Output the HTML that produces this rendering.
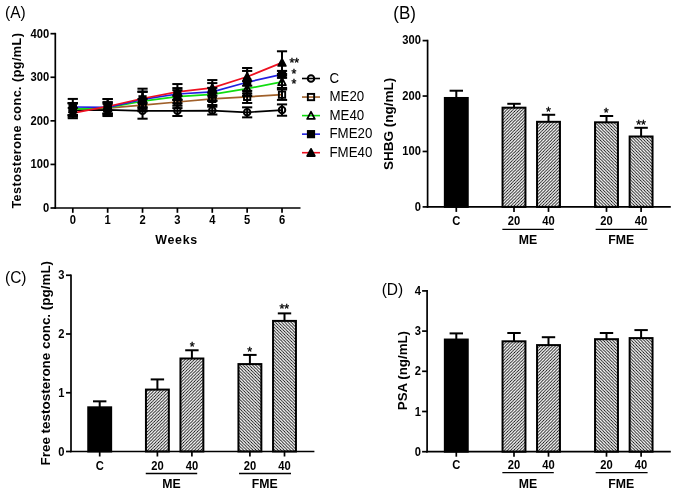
<!DOCTYPE html>
<html><head><meta charset="utf-8"><style>
html,body{margin:0;padding:0;background:#fff;}
svg{display:block;will-change:transform;}
text{font-family:"Liberation Sans", sans-serif;fill:#000;}
</style></head><body>
<svg width="676" height="494" viewBox="0 0 676 494">
<defs>
<pattern id="hatchR" patternUnits="userSpaceOnUse" width="3.13" height="3.13">
<path d="M-0.8,0.8 L0.8,-0.8 M0,3.13 L3.13,0 M2.33,3.93 L3.93,2.33" stroke="#000" stroke-width="0.8"/>
</pattern>
<pattern id="hatchL" patternUnits="userSpaceOnUse" width="3.13" height="3.13">
<path d="M-0.8,2.33 L0.8,3.93 M0,0 L3.13,3.13 M2.33,-0.8 L3.93,0.8" stroke="#000" stroke-width="0.8"/>
</pattern>
</defs>
<rect width="676" height="494" fill="#fff"/>
<text x="0.00" y="0.00" font-size="15.5" font-weight="normal" text-anchor="start" transform="translate(5.10 18.00) scale(1 1.06)">(A)</text>
<line x1="55.30" y1="32.83" x2="55.30" y2="208.85" stroke="#000" stroke-width="1.7"/>
<line x1="54.45" y1="208.00" x2="300.50" y2="208.00" stroke="#000" stroke-width="1.7"/>
<line x1="50.50" y1="208.00" x2="55.30" y2="208.00" stroke="#000" stroke-width="1.7"/>
<text x="0.00" y="0.00" font-size="11.2" font-weight="bold" text-anchor="end" transform="translate(49.30 212.00) scale(1 1.1)">0</text>
<line x1="50.50" y1="164.42" x2="55.30" y2="164.42" stroke="#000" stroke-width="1.7"/>
<text x="0.00" y="0.00" font-size="11.2" font-weight="bold" text-anchor="end" transform="translate(49.30 168.42) scale(1 1.1)">100</text>
<line x1="50.50" y1="120.84" x2="55.30" y2="120.84" stroke="#000" stroke-width="1.7"/>
<text x="0.00" y="0.00" font-size="11.2" font-weight="bold" text-anchor="end" transform="translate(49.30 124.84) scale(1 1.1)">200</text>
<line x1="50.50" y1="77.26" x2="55.30" y2="77.26" stroke="#000" stroke-width="1.7"/>
<text x="0.00" y="0.00" font-size="11.2" font-weight="bold" text-anchor="end" transform="translate(49.30 81.26) scale(1 1.1)">300</text>
<line x1="50.50" y1="33.68" x2="55.30" y2="33.68" stroke="#000" stroke-width="1.7"/>
<text x="0.00" y="0.00" font-size="11.2" font-weight="bold" text-anchor="end" transform="translate(49.30 37.68) scale(1 1.1)">400</text>
<line x1="72.80" y1="208.00" x2="72.80" y2="212.80" stroke="#000" stroke-width="1.7"/>
<text x="0.00" y="0.00" font-size="11.2" font-weight="bold" text-anchor="middle" transform="translate(72.80 224.20) scale(1 1.1)">0</text>
<line x1="107.67" y1="208.00" x2="107.67" y2="212.80" stroke="#000" stroke-width="1.7"/>
<text x="0.00" y="0.00" font-size="11.2" font-weight="bold" text-anchor="middle" transform="translate(107.67 224.20) scale(1 1.1)">1</text>
<line x1="142.54" y1="208.00" x2="142.54" y2="212.80" stroke="#000" stroke-width="1.7"/>
<text x="0.00" y="0.00" font-size="11.2" font-weight="bold" text-anchor="middle" transform="translate(142.54 224.20) scale(1 1.1)">2</text>
<line x1="177.41" y1="208.00" x2="177.41" y2="212.80" stroke="#000" stroke-width="1.7"/>
<text x="0.00" y="0.00" font-size="11.2" font-weight="bold" text-anchor="middle" transform="translate(177.41 224.20) scale(1 1.1)">3</text>
<line x1="212.28" y1="208.00" x2="212.28" y2="212.80" stroke="#000" stroke-width="1.7"/>
<text x="0.00" y="0.00" font-size="11.2" font-weight="bold" text-anchor="middle" transform="translate(212.28 224.20) scale(1 1.1)">4</text>
<line x1="247.15" y1="208.00" x2="247.15" y2="212.80" stroke="#000" stroke-width="1.7"/>
<text x="0.00" y="0.00" font-size="11.2" font-weight="bold" text-anchor="middle" transform="translate(247.15 224.20) scale(1 1.1)">5</text>
<line x1="282.02" y1="208.00" x2="282.02" y2="212.80" stroke="#000" stroke-width="1.7"/>
<text x="0.00" y="0.00" font-size="11.2" font-weight="bold" text-anchor="middle" transform="translate(282.02 224.20) scale(1 1.1)">6</text>
<text x="176.60" y="243.90" font-size="12.4" font-weight="bold" text-anchor="middle" letter-spacing="0.75">Weeks</text>
<text x="0.00" y="0.00" font-size="12.6" font-weight="bold" text-anchor="middle" transform="translate(21.40 120.65) rotate(-90) scale(1 1.0)" letter-spacing="0.45">Testosterone conc. (pg/mL)</text>
<polyline points="72.80,110.12 107.67,109.94 142.54,110.86 177.41,110.86 212.28,110.60 247.15,112.34 282.02,110.08" fill="none" stroke="#000000" stroke-width="1.7"/>
<polyline points="72.80,109.20 107.67,108.20 142.54,105.11 177.41,102.01 212.28,98.92 247.15,96.87 282.02,94.69" fill="none" stroke="#a0602a" stroke-width="1.7"/>
<polyline points="72.80,109.07 107.67,107.77 142.54,101.10 177.41,96.70 212.28,94.39 247.15,88.59 282.02,81.84" fill="none" stroke="#10dd10" stroke-width="1.7"/>
<polyline points="72.80,106.98 107.67,107.33 142.54,99.31 177.41,93.99 212.28,91.82 247.15,82.27 282.02,74.38" fill="none" stroke="#2020e0" stroke-width="1.7"/>
<polyline points="72.80,113.08 107.67,106.46 142.54,98.48 177.41,91.86 212.28,87.89 247.15,76.82 282.02,62.62" fill="none" stroke="#ee1020" stroke-width="1.7"/>
<line x1="72.80" y1="103.58" x2="72.80" y2="116.66" stroke="#000" stroke-width="2.0"/>
<line x1="67.70" y1="103.58" x2="77.90" y2="103.58" stroke="#000" stroke-width="2.0"/>
<line x1="67.70" y1="116.66" x2="77.90" y2="116.66" stroke="#000" stroke-width="2.0"/>
<line x1="107.67" y1="103.84" x2="107.67" y2="116.05" stroke="#000" stroke-width="2.0"/>
<line x1="102.57" y1="103.84" x2="112.77" y2="103.84" stroke="#000" stroke-width="2.0"/>
<line x1="102.57" y1="116.05" x2="112.77" y2="116.05" stroke="#000" stroke-width="2.0"/>
<line x1="142.54" y1="103.02" x2="142.54" y2="118.70" stroke="#000" stroke-width="2.0"/>
<line x1="137.44" y1="103.02" x2="147.64" y2="103.02" stroke="#000" stroke-width="2.0"/>
<line x1="137.44" y1="118.70" x2="147.64" y2="118.70" stroke="#000" stroke-width="2.0"/>
<line x1="177.41" y1="105.72" x2="177.41" y2="116.00" stroke="#000" stroke-width="2.0"/>
<line x1="172.31" y1="105.72" x2="182.51" y2="105.72" stroke="#000" stroke-width="2.0"/>
<line x1="172.31" y1="116.00" x2="182.51" y2="116.00" stroke="#000" stroke-width="2.0"/>
<line x1="212.28" y1="106.68" x2="212.28" y2="114.52" stroke="#000" stroke-width="2.0"/>
<line x1="207.18" y1="106.68" x2="217.38" y2="106.68" stroke="#000" stroke-width="2.0"/>
<line x1="207.18" y1="114.52" x2="217.38" y2="114.52" stroke="#000" stroke-width="2.0"/>
<line x1="247.15" y1="107.33" x2="247.15" y2="117.35" stroke="#000" stroke-width="2.0"/>
<line x1="242.05" y1="107.33" x2="252.25" y2="107.33" stroke="#000" stroke-width="2.0"/>
<line x1="242.05" y1="117.35" x2="252.25" y2="117.35" stroke="#000" stroke-width="2.0"/>
<line x1="282.02" y1="104.41" x2="282.02" y2="115.74" stroke="#000" stroke-width="2.0"/>
<line x1="276.92" y1="104.41" x2="287.12" y2="104.41" stroke="#000" stroke-width="2.0"/>
<line x1="276.92" y1="115.74" x2="287.12" y2="115.74" stroke="#000" stroke-width="2.0"/>
<line x1="72.80" y1="103.10" x2="72.80" y2="115.31" stroke="#000" stroke-width="2.0"/>
<line x1="67.70" y1="103.10" x2="77.90" y2="103.10" stroke="#000" stroke-width="2.0"/>
<line x1="67.70" y1="115.31" x2="77.90" y2="115.31" stroke="#000" stroke-width="2.0"/>
<line x1="107.67" y1="102.54" x2="107.67" y2="113.87" stroke="#000" stroke-width="2.0"/>
<line x1="102.57" y1="102.54" x2="112.77" y2="102.54" stroke="#000" stroke-width="2.0"/>
<line x1="102.57" y1="113.87" x2="112.77" y2="113.87" stroke="#000" stroke-width="2.0"/>
<line x1="142.54" y1="99.01" x2="142.54" y2="111.21" stroke="#000" stroke-width="2.0"/>
<line x1="137.44" y1="99.01" x2="147.64" y2="99.01" stroke="#000" stroke-width="2.0"/>
<line x1="137.44" y1="111.21" x2="147.64" y2="111.21" stroke="#000" stroke-width="2.0"/>
<line x1="177.41" y1="95.91" x2="177.41" y2="108.11" stroke="#000" stroke-width="2.0"/>
<line x1="172.31" y1="95.91" x2="182.51" y2="95.91" stroke="#000" stroke-width="2.0"/>
<line x1="172.31" y1="108.11" x2="182.51" y2="108.11" stroke="#000" stroke-width="2.0"/>
<line x1="212.28" y1="92.82" x2="212.28" y2="105.02" stroke="#000" stroke-width="2.0"/>
<line x1="207.18" y1="92.82" x2="217.38" y2="92.82" stroke="#000" stroke-width="2.0"/>
<line x1="207.18" y1="105.02" x2="217.38" y2="105.02" stroke="#000" stroke-width="2.0"/>
<line x1="247.15" y1="90.77" x2="247.15" y2="102.97" stroke="#000" stroke-width="2.0"/>
<line x1="242.05" y1="90.77" x2="252.25" y2="90.77" stroke="#000" stroke-width="2.0"/>
<line x1="242.05" y1="102.97" x2="252.25" y2="102.97" stroke="#000" stroke-width="2.0"/>
<line x1="282.02" y1="89.46" x2="282.02" y2="99.92" stroke="#000" stroke-width="2.0"/>
<line x1="276.92" y1="89.46" x2="287.12" y2="89.46" stroke="#000" stroke-width="2.0"/>
<line x1="276.92" y1="99.92" x2="287.12" y2="99.92" stroke="#000" stroke-width="2.0"/>
<line x1="72.80" y1="102.97" x2="72.80" y2="115.17" stroke="#000" stroke-width="2.0"/>
<line x1="67.70" y1="102.97" x2="77.90" y2="102.97" stroke="#000" stroke-width="2.0"/>
<line x1="67.70" y1="115.17" x2="77.90" y2="115.17" stroke="#000" stroke-width="2.0"/>
<line x1="107.67" y1="102.10" x2="107.67" y2="113.43" stroke="#000" stroke-width="2.0"/>
<line x1="102.57" y1="102.10" x2="112.77" y2="102.10" stroke="#000" stroke-width="2.0"/>
<line x1="102.57" y1="113.43" x2="112.77" y2="113.43" stroke="#000" stroke-width="2.0"/>
<line x1="142.54" y1="91.95" x2="142.54" y2="110.25" stroke="#000" stroke-width="2.0"/>
<line x1="137.44" y1="91.95" x2="147.64" y2="91.95" stroke="#000" stroke-width="2.0"/>
<line x1="137.44" y1="110.25" x2="147.64" y2="110.25" stroke="#000" stroke-width="2.0"/>
<line x1="177.41" y1="90.16" x2="177.41" y2="103.23" stroke="#000" stroke-width="2.0"/>
<line x1="172.31" y1="90.16" x2="182.51" y2="90.16" stroke="#000" stroke-width="2.0"/>
<line x1="172.31" y1="103.23" x2="182.51" y2="103.23" stroke="#000" stroke-width="2.0"/>
<line x1="212.28" y1="87.85" x2="212.28" y2="100.92" stroke="#000" stroke-width="2.0"/>
<line x1="207.18" y1="87.85" x2="217.38" y2="87.85" stroke="#000" stroke-width="2.0"/>
<line x1="207.18" y1="100.92" x2="217.38" y2="100.92" stroke="#000" stroke-width="2.0"/>
<line x1="247.15" y1="81.18" x2="247.15" y2="96.00" stroke="#000" stroke-width="2.0"/>
<line x1="242.05" y1="81.18" x2="252.25" y2="81.18" stroke="#000" stroke-width="2.0"/>
<line x1="242.05" y1="96.00" x2="252.25" y2="96.00" stroke="#000" stroke-width="2.0"/>
<line x1="282.02" y1="75.73" x2="282.02" y2="87.94" stroke="#000" stroke-width="2.0"/>
<line x1="276.92" y1="75.73" x2="287.12" y2="75.73" stroke="#000" stroke-width="2.0"/>
<line x1="276.92" y1="87.94" x2="287.12" y2="87.94" stroke="#000" stroke-width="2.0"/>
<line x1="72.80" y1="98.92" x2="72.80" y2="115.04" stroke="#000" stroke-width="2.0"/>
<line x1="67.70" y1="98.92" x2="77.90" y2="98.92" stroke="#000" stroke-width="2.0"/>
<line x1="67.70" y1="115.04" x2="77.90" y2="115.04" stroke="#000" stroke-width="2.0"/>
<line x1="107.67" y1="99.05" x2="107.67" y2="115.61" stroke="#000" stroke-width="2.0"/>
<line x1="102.57" y1="99.05" x2="112.77" y2="99.05" stroke="#000" stroke-width="2.0"/>
<line x1="102.57" y1="115.61" x2="112.77" y2="115.61" stroke="#000" stroke-width="2.0"/>
<line x1="142.54" y1="91.47" x2="142.54" y2="107.16" stroke="#000" stroke-width="2.0"/>
<line x1="137.44" y1="91.47" x2="147.64" y2="91.47" stroke="#000" stroke-width="2.0"/>
<line x1="137.44" y1="107.16" x2="147.64" y2="107.16" stroke="#000" stroke-width="2.0"/>
<line x1="177.41" y1="88.07" x2="177.41" y2="99.92" stroke="#000" stroke-width="2.0"/>
<line x1="172.31" y1="88.07" x2="182.51" y2="88.07" stroke="#000" stroke-width="2.0"/>
<line x1="172.31" y1="99.92" x2="182.51" y2="99.92" stroke="#000" stroke-width="2.0"/>
<line x1="212.28" y1="83.10" x2="212.28" y2="100.53" stroke="#000" stroke-width="2.0"/>
<line x1="207.18" y1="83.10" x2="217.38" y2="83.10" stroke="#000" stroke-width="2.0"/>
<line x1="207.18" y1="100.53" x2="217.38" y2="100.53" stroke="#000" stroke-width="2.0"/>
<line x1="247.15" y1="70.94" x2="247.15" y2="93.60" stroke="#000" stroke-width="2.0"/>
<line x1="242.05" y1="70.94" x2="252.25" y2="70.94" stroke="#000" stroke-width="2.0"/>
<line x1="242.05" y1="93.60" x2="252.25" y2="93.60" stroke="#000" stroke-width="2.0"/>
<line x1="282.02" y1="70.90" x2="282.02" y2="77.87" stroke="#000" stroke-width="2.0"/>
<line x1="276.92" y1="70.90" x2="287.12" y2="70.90" stroke="#000" stroke-width="2.0"/>
<line x1="276.92" y1="77.87" x2="287.12" y2="77.87" stroke="#000" stroke-width="2.0"/>
<line x1="72.80" y1="107.94" x2="72.80" y2="118.23" stroke="#000" stroke-width="2.0"/>
<line x1="67.70" y1="107.94" x2="77.90" y2="107.94" stroke="#000" stroke-width="2.0"/>
<line x1="67.70" y1="118.23" x2="77.90" y2="118.23" stroke="#000" stroke-width="2.0"/>
<line x1="107.67" y1="99.05" x2="107.67" y2="113.87" stroke="#000" stroke-width="2.0"/>
<line x1="102.57" y1="99.05" x2="112.77" y2="99.05" stroke="#000" stroke-width="2.0"/>
<line x1="102.57" y1="113.87" x2="112.77" y2="113.87" stroke="#000" stroke-width="2.0"/>
<line x1="142.54" y1="88.68" x2="142.54" y2="108.29" stroke="#000" stroke-width="2.0"/>
<line x1="137.44" y1="88.68" x2="147.64" y2="88.68" stroke="#000" stroke-width="2.0"/>
<line x1="137.44" y1="108.29" x2="147.64" y2="108.29" stroke="#000" stroke-width="2.0"/>
<line x1="177.41" y1="84.06" x2="177.41" y2="99.66" stroke="#000" stroke-width="2.0"/>
<line x1="172.31" y1="84.06" x2="182.51" y2="84.06" stroke="#000" stroke-width="2.0"/>
<line x1="172.31" y1="99.66" x2="182.51" y2="99.66" stroke="#000" stroke-width="2.0"/>
<line x1="212.28" y1="80.05" x2="212.28" y2="95.74" stroke="#000" stroke-width="2.0"/>
<line x1="207.18" y1="80.05" x2="217.38" y2="80.05" stroke="#000" stroke-width="2.0"/>
<line x1="207.18" y1="95.74" x2="217.38" y2="95.74" stroke="#000" stroke-width="2.0"/>
<line x1="247.15" y1="67.98" x2="247.15" y2="85.67" stroke="#000" stroke-width="2.0"/>
<line x1="242.05" y1="67.98" x2="252.25" y2="67.98" stroke="#000" stroke-width="2.0"/>
<line x1="242.05" y1="85.67" x2="252.25" y2="85.67" stroke="#000" stroke-width="2.0"/>
<line x1="282.02" y1="51.29" x2="282.02" y2="73.95" stroke="#000" stroke-width="2.0"/>
<line x1="276.92" y1="51.29" x2="287.12" y2="51.29" stroke="#000" stroke-width="2.0"/>
<line x1="276.92" y1="73.95" x2="287.12" y2="73.95" stroke="#000" stroke-width="2.0"/>
<circle cx="72.80" cy="110.12" r="3.25" fill="none" stroke="#000" stroke-width="2"/>
<circle cx="107.67" cy="109.94" r="3.25" fill="none" stroke="#000" stroke-width="2"/>
<circle cx="142.54" cy="110.86" r="3.25" fill="none" stroke="#000" stroke-width="2"/>
<circle cx="177.41" cy="110.86" r="3.25" fill="none" stroke="#000" stroke-width="2"/>
<circle cx="212.28" cy="110.60" r="3.25" fill="none" stroke="#000" stroke-width="2"/>
<circle cx="247.15" cy="112.34" r="3.25" fill="none" stroke="#000" stroke-width="2"/>
<circle cx="282.02" cy="110.08" r="3.25" fill="none" stroke="#000" stroke-width="2"/>
<rect x="69.65" y="106.05" width="6.30" height="6.30" fill="none" stroke="#000" stroke-width="1.9"/>
<rect x="104.52" y="105.05" width="6.30" height="6.30" fill="none" stroke="#000" stroke-width="1.9"/>
<rect x="139.39" y="101.96" width="6.30" height="6.30" fill="none" stroke="#000" stroke-width="1.9"/>
<rect x="174.26" y="98.86" width="6.30" height="6.30" fill="none" stroke="#000" stroke-width="1.9"/>
<rect x="209.13" y="95.77" width="6.30" height="6.30" fill="none" stroke="#000" stroke-width="1.9"/>
<rect x="244.00" y="93.72" width="6.30" height="6.30" fill="none" stroke="#000" stroke-width="1.9"/>
<rect x="278.87" y="91.54" width="6.30" height="6.30" fill="none" stroke="#000" stroke-width="1.9"/>
<polygon points="72.80,105.27 76.60,112.37 69.00,112.37" fill="none" stroke="#000" stroke-width="1.8" stroke-linejoin="round"/>
<polygon points="107.67,103.97 111.47,111.07 103.87,111.07" fill="none" stroke="#000" stroke-width="1.8" stroke-linejoin="round"/>
<polygon points="142.54,97.30 146.34,104.40 138.74,104.40" fill="none" stroke="#000" stroke-width="1.8" stroke-linejoin="round"/>
<polygon points="177.41,92.90 181.21,100.00 173.61,100.00" fill="none" stroke="#000" stroke-width="1.8" stroke-linejoin="round"/>
<polygon points="212.28,90.59 216.08,97.69 208.48,97.69" fill="none" stroke="#000" stroke-width="1.8" stroke-linejoin="round"/>
<polygon points="247.15,84.79 250.95,91.89 243.35,91.89" fill="none" stroke="#000" stroke-width="1.8" stroke-linejoin="round"/>
<polygon points="282.02,78.04 285.82,85.14 278.22,85.14" fill="none" stroke="#000" stroke-width="1.8" stroke-linejoin="round"/>
<rect x="69.65" y="103.83" width="6.30" height="6.30" fill="#000" stroke="#000" stroke-width="1.9"/>
<rect x="104.52" y="104.18" width="6.30" height="6.30" fill="#000" stroke="#000" stroke-width="1.9"/>
<rect x="139.39" y="96.16" width="6.30" height="6.30" fill="#000" stroke="#000" stroke-width="1.9"/>
<rect x="174.26" y="90.84" width="6.30" height="6.30" fill="#000" stroke="#000" stroke-width="1.9"/>
<rect x="209.13" y="88.67" width="6.30" height="6.30" fill="#000" stroke="#000" stroke-width="1.9"/>
<rect x="244.00" y="79.12" width="6.30" height="6.30" fill="#000" stroke="#000" stroke-width="1.9"/>
<rect x="278.87" y="71.23" width="6.30" height="6.30" fill="#000" stroke="#000" stroke-width="1.9"/>
<polygon points="72.80,109.28 76.60,116.38 69.00,116.38" fill="#000" stroke="#000" stroke-width="1.8" stroke-linejoin="round"/>
<polygon points="107.67,102.66 111.47,109.76 103.87,109.76" fill="#000" stroke="#000" stroke-width="1.8" stroke-linejoin="round"/>
<polygon points="142.54,94.68 146.34,101.78 138.74,101.78" fill="#000" stroke="#000" stroke-width="1.8" stroke-linejoin="round"/>
<polygon points="177.41,88.06 181.21,95.16 173.61,95.16" fill="#000" stroke="#000" stroke-width="1.8" stroke-linejoin="round"/>
<polygon points="212.28,84.09 216.08,91.19 208.48,91.19" fill="#000" stroke="#000" stroke-width="1.8" stroke-linejoin="round"/>
<polygon points="247.15,73.02 250.95,80.12 243.35,80.12" fill="#000" stroke="#000" stroke-width="1.8" stroke-linejoin="round"/>
<polygon points="282.02,58.82 285.82,65.92 278.22,65.92" fill="#000" stroke="#000" stroke-width="1.8" stroke-linejoin="round"/>
<text x="289.50" y="66.50" font-size="12.5" font-weight="normal" text-anchor="start" stroke="#000" stroke-width="0.35">**</text>
<text x="291.50" y="78.00" font-size="12.5" font-weight="normal" text-anchor="start" stroke="#000" stroke-width="0.35">*</text>
<text x="291.50" y="87.50" font-size="12.5" font-weight="normal" text-anchor="start" stroke="#000" stroke-width="0.35">*</text>
<line x1="302.00" y1="78.50" x2="320.00" y2="78.50" stroke="#000000" stroke-width="1.6"/>
<circle cx="311.00" cy="78.50" r="3.25" fill="none" stroke="#000" stroke-width="2"/>
<text x="0.00" y="0.00" font-size="13.3" font-weight="normal" text-anchor="start" transform="translate(329.50 82.80) scale(1 1.06)">C</text>
<line x1="302.00" y1="97.05" x2="320.00" y2="97.05" stroke="#a0602a" stroke-width="1.6"/>
<rect x="307.85" y="93.90" width="6.30" height="6.30" fill="none" stroke="#000" stroke-width="1.9"/>
<text x="0.00" y="0.00" font-size="13.3" font-weight="normal" text-anchor="start" transform="translate(329.50 101.35) scale(1 1.06)">ME20</text>
<line x1="302.00" y1="115.60" x2="320.00" y2="115.60" stroke="#10dd10" stroke-width="1.6"/>
<polygon points="311.00,111.80 314.80,118.90 307.20,118.90" fill="none" stroke="#000" stroke-width="1.8" stroke-linejoin="round"/>
<text x="0.00" y="0.00" font-size="13.3" font-weight="normal" text-anchor="start" transform="translate(329.50 119.90) scale(1 1.06)">ME40</text>
<line x1="302.00" y1="134.15" x2="320.00" y2="134.15" stroke="#2020e0" stroke-width="1.6"/>
<rect x="307.85" y="131.00" width="6.30" height="6.30" fill="#000" stroke="#000" stroke-width="1.9"/>
<text x="0.00" y="0.00" font-size="13.3" font-weight="normal" text-anchor="start" transform="translate(329.50 138.45) scale(1 1.06)">FME20</text>
<line x1="302.00" y1="152.70" x2="320.00" y2="152.70" stroke="#ee1020" stroke-width="1.6"/>
<polygon points="311.00,148.90 314.80,156.00 307.20,156.00" fill="#000" stroke="#000" stroke-width="1.8" stroke-linejoin="round"/>
<text x="0.00" y="0.00" font-size="13.3" font-weight="normal" text-anchor="start" transform="translate(329.50 157.00) scale(1 1.06)">FME40</text>
<text x="0.00" y="0.00" font-size="17.0" font-weight="normal" text-anchor="start" transform="translate(393.30 18.70) scale(1 1.06)">(B)</text>
<line x1="427.60" y1="39.76" x2="427.60" y2="207.75" stroke="#000" stroke-width="1.7"/>
<line x1="426.75" y1="206.90" x2="670.80" y2="206.90" stroke="#000" stroke-width="1.7"/>
<line x1="422.60" y1="206.90" x2="427.60" y2="206.90" stroke="#000" stroke-width="1.7"/>
<text x="0.00" y="0.00" font-size="11.2" font-weight="bold" text-anchor="end" transform="translate(421.00 210.60) scale(1 1.1)">0</text>
<line x1="422.60" y1="151.47" x2="427.60" y2="151.47" stroke="#000" stroke-width="1.7"/>
<text x="0.00" y="0.00" font-size="11.2" font-weight="bold" text-anchor="end" transform="translate(421.00 155.17) scale(1 1.1)">100</text>
<line x1="422.60" y1="96.04" x2="427.60" y2="96.04" stroke="#000" stroke-width="1.7"/>
<text x="0.00" y="0.00" font-size="11.2" font-weight="bold" text-anchor="end" transform="translate(421.00 99.74) scale(1 1.1)">200</text>
<line x1="422.60" y1="40.61" x2="427.60" y2="40.61" stroke="#000" stroke-width="1.7"/>
<text x="0.00" y="0.00" font-size="11.2" font-weight="bold" text-anchor="end" transform="translate(421.00 44.31) scale(1 1.1)">300</text>
<text x="0.00" y="0.00" font-size="13.5" font-weight="bold" text-anchor="middle" transform="translate(392.80 123.80) rotate(-90) scale(1 1.0)">SHBG (ng/mL)</text>
<line x1="456.30" y1="90.72" x2="456.30" y2="97.98" stroke="#000" stroke-width="2.0"/>
<line x1="449.60" y1="90.72" x2="463.00" y2="90.72" stroke="#000" stroke-width="2.0"/>
<rect x="444.85" y="97.98" width="22.90" height="108.92" fill="#000" stroke="#000" stroke-width="2.0"/>
<line x1="514.00" y1="103.80" x2="514.00" y2="107.68" stroke="#000" stroke-width="2.0"/>
<line x1="507.30" y1="103.80" x2="520.70" y2="103.80" stroke="#000" stroke-width="2.0"/>
<rect x="502.55" y="107.68" width="22.90" height="99.22" fill="url(#hatchR)" stroke="#000" stroke-width="2.0"/>
<line x1="548.50" y1="114.78" x2="548.50" y2="121.81" stroke="#000" stroke-width="2.0"/>
<line x1="541.80" y1="114.78" x2="555.20" y2="114.78" stroke="#000" stroke-width="2.0"/>
<rect x="537.05" y="121.81" width="22.90" height="85.09" fill="url(#hatchR)" stroke="#000" stroke-width="2.0"/>
<line x1="606.50" y1="115.99" x2="606.50" y2="122.31" stroke="#000" stroke-width="2.0"/>
<line x1="599.80" y1="115.99" x2="613.20" y2="115.99" stroke="#000" stroke-width="2.0"/>
<rect x="595.05" y="122.31" width="22.90" height="84.59" fill="url(#hatchL)" stroke="#000" stroke-width="2.0"/>
<line x1="641.10" y1="127.80" x2="641.10" y2="136.50" stroke="#000" stroke-width="2.0"/>
<line x1="634.40" y1="127.80" x2="647.80" y2="127.80" stroke="#000" stroke-width="2.0"/>
<rect x="629.65" y="136.50" width="22.90" height="70.40" fill="url(#hatchL)" stroke="#000" stroke-width="2.0"/>
<line x1="456.30" y1="206.90" x2="456.30" y2="211.90" stroke="#000" stroke-width="1.7"/>
<text x="0.00" y="0.00" font-size="11.2" font-weight="bold" text-anchor="middle" transform="translate(456.30 224.80) scale(1 1.1)">C</text>
<line x1="514.00" y1="206.90" x2="514.00" y2="211.90" stroke="#000" stroke-width="1.7"/>
<text x="0.00" y="0.00" font-size="11.2" font-weight="bold" text-anchor="middle" transform="translate(514.00 224.80) scale(1 1.1)">20</text>
<line x1="548.50" y1="206.90" x2="548.50" y2="211.90" stroke="#000" stroke-width="1.7"/>
<text x="0.00" y="0.00" font-size="11.2" font-weight="bold" text-anchor="middle" transform="translate(548.50 224.80) scale(1 1.1)">40</text>
<line x1="606.50" y1="206.90" x2="606.50" y2="211.90" stroke="#000" stroke-width="1.7"/>
<text x="0.00" y="0.00" font-size="11.2" font-weight="bold" text-anchor="middle" transform="translate(606.50 224.80) scale(1 1.1)">20</text>
<line x1="641.10" y1="206.90" x2="641.10" y2="211.90" stroke="#000" stroke-width="1.7"/>
<text x="0.00" y="0.00" font-size="11.2" font-weight="bold" text-anchor="middle" transform="translate(641.10 224.80) scale(1 1.1)">40</text>
<line x1="502.35" y1="229.30" x2="553.80" y2="229.30" stroke="#000" stroke-width="1.3"/>
<line x1="595.65" y1="229.30" x2="647.60" y2="229.30" stroke="#000" stroke-width="1.3"/>
<text x="0.00" y="0.00" font-size="12.3" font-weight="bold" text-anchor="middle" transform="translate(527.95 244.20) scale(1 1.06)">ME</text>
<text x="0.00" y="0.00" font-size="12.3" font-weight="bold" text-anchor="middle" transform="translate(621.30 244.20) scale(1 1.06)">FME</text>
<text x="548.40" y="116.00" font-size="12.5" font-weight="normal" text-anchor="middle" stroke="#000" stroke-width="0.35">*</text>
<text x="606.30" y="117.00" font-size="12.5" font-weight="normal" text-anchor="middle" stroke="#000" stroke-width="0.35">*</text>
<text x="641.00" y="129.00" font-size="12.5" font-weight="normal" text-anchor="middle" stroke="#000" stroke-width="0.35">**</text>
<text x="0.00" y="0.00" font-size="15.5" font-weight="normal" text-anchor="start" transform="translate(5.00 283.20) scale(1 1.06)">(C)</text>
<line x1="71.00" y1="274.40" x2="71.00" y2="452.35" stroke="#000" stroke-width="1.7"/>
<line x1="70.15" y1="451.50" x2="314.40" y2="451.50" stroke="#000" stroke-width="1.7"/>
<line x1="66.00" y1="451.50" x2="71.00" y2="451.50" stroke="#000" stroke-width="1.7"/>
<text x="0.00" y="0.00" font-size="11.2" font-weight="bold" text-anchor="end" transform="translate(64.50 455.50) scale(1 1.1)">0</text>
<line x1="66.00" y1="392.75" x2="71.00" y2="392.75" stroke="#000" stroke-width="1.7"/>
<text x="0.00" y="0.00" font-size="11.2" font-weight="bold" text-anchor="end" transform="translate(64.50 396.75) scale(1 1.1)">1</text>
<line x1="66.00" y1="334.00" x2="71.00" y2="334.00" stroke="#000" stroke-width="1.7"/>
<text x="0.00" y="0.00" font-size="11.2" font-weight="bold" text-anchor="end" transform="translate(64.50 338.00) scale(1 1.1)">2</text>
<line x1="66.00" y1="275.25" x2="71.00" y2="275.25" stroke="#000" stroke-width="1.7"/>
<text x="0.00" y="0.00" font-size="11.2" font-weight="bold" text-anchor="end" transform="translate(64.50 279.25) scale(1 1.1)">3</text>
<text x="0.00" y="0.00" font-size="13.45" font-weight="bold" text-anchor="middle" transform="translate(49.90 363.20) rotate(-90) scale(1 1.0)">Free testosterone conc. (pg/mL)</text>
<line x1="99.70" y1="401.33" x2="99.70" y2="407.32" stroke="#000" stroke-width="2.0"/>
<line x1="93.00" y1="401.33" x2="106.40" y2="401.33" stroke="#000" stroke-width="2.0"/>
<rect x="88.25" y="407.32" width="22.90" height="44.18" fill="#000" stroke="#000" stroke-width="2.0"/>
<line x1="157.40" y1="379.41" x2="157.40" y2="389.58" stroke="#000" stroke-width="2.0"/>
<line x1="150.70" y1="379.41" x2="164.10" y2="379.41" stroke="#000" stroke-width="2.0"/>
<rect x="145.95" y="389.58" width="22.90" height="61.92" fill="url(#hatchR)" stroke="#000" stroke-width="2.0"/>
<line x1="191.90" y1="350.27" x2="191.90" y2="358.50" stroke="#000" stroke-width="2.0"/>
<line x1="185.20" y1="350.27" x2="198.60" y2="350.27" stroke="#000" stroke-width="2.0"/>
<rect x="180.45" y="358.50" width="22.90" height="93.00" fill="url(#hatchR)" stroke="#000" stroke-width="2.0"/>
<line x1="249.90" y1="354.92" x2="249.90" y2="364.08" stroke="#000" stroke-width="2.0"/>
<line x1="243.20" y1="354.92" x2="256.60" y2="354.92" stroke="#000" stroke-width="2.0"/>
<rect x="238.45" y="364.08" width="22.90" height="87.42" fill="url(#hatchL)" stroke="#000" stroke-width="2.0"/>
<line x1="284.50" y1="313.38" x2="284.50" y2="320.90" stroke="#000" stroke-width="2.0"/>
<line x1="277.80" y1="313.38" x2="291.20" y2="313.38" stroke="#000" stroke-width="2.0"/>
<rect x="273.05" y="320.90" width="22.90" height="130.60" fill="url(#hatchL)" stroke="#000" stroke-width="2.0"/>
<line x1="99.70" y1="451.50" x2="99.70" y2="456.50" stroke="#000" stroke-width="1.7"/>
<text x="0.00" y="0.00" font-size="11.2" font-weight="bold" text-anchor="middle" transform="translate(99.70 470.00) scale(1 1.1)">C</text>
<line x1="157.40" y1="451.50" x2="157.40" y2="456.50" stroke="#000" stroke-width="1.7"/>
<text x="0.00" y="0.00" font-size="11.2" font-weight="bold" text-anchor="middle" transform="translate(157.40 470.00) scale(1 1.1)">20</text>
<line x1="191.90" y1="451.50" x2="191.90" y2="456.50" stroke="#000" stroke-width="1.7"/>
<text x="0.00" y="0.00" font-size="11.2" font-weight="bold" text-anchor="middle" transform="translate(191.90 470.00) scale(1 1.1)">40</text>
<line x1="249.90" y1="451.50" x2="249.90" y2="456.50" stroke="#000" stroke-width="1.7"/>
<text x="0.00" y="0.00" font-size="11.2" font-weight="bold" text-anchor="middle" transform="translate(249.90 470.00) scale(1 1.1)">20</text>
<line x1="284.50" y1="451.50" x2="284.50" y2="456.50" stroke="#000" stroke-width="1.7"/>
<text x="0.00" y="0.00" font-size="11.2" font-weight="bold" text-anchor="middle" transform="translate(284.50 470.00) scale(1 1.1)">40</text>
<line x1="145.75" y1="473.50" x2="197.20" y2="473.50" stroke="#000" stroke-width="1.3"/>
<line x1="239.05" y1="473.50" x2="291.00" y2="473.50" stroke="#000" stroke-width="1.3"/>
<text x="0.00" y="0.00" font-size="12.3" font-weight="bold" text-anchor="middle" transform="translate(171.35 488.40) scale(1 1.06)">ME</text>
<text x="0.00" y="0.00" font-size="12.3" font-weight="bold" text-anchor="middle" transform="translate(264.70 488.40) scale(1 1.06)">FME</text>
<text x="192.20" y="351.00" font-size="12.5" font-weight="normal" text-anchor="middle" stroke="#000" stroke-width="0.35">*</text>
<text x="249.80" y="356.00" font-size="12.5" font-weight="normal" text-anchor="middle" stroke="#000" stroke-width="0.35">*</text>
<text x="284.30" y="313.30" font-size="12.5" font-weight="normal" text-anchor="middle" stroke="#000" stroke-width="0.35">**</text>
<text x="0.00" y="0.00" font-size="15.5" font-weight="normal" text-anchor="start" transform="translate(381.70 295.30) scale(1 1.06)">(D)</text>
<line x1="427.10" y1="290.05" x2="427.10" y2="452.55" stroke="#000" stroke-width="1.7"/>
<line x1="426.25" y1="451.70" x2="670.80" y2="451.70" stroke="#000" stroke-width="1.7"/>
<line x1="422.10" y1="451.70" x2="427.10" y2="451.70" stroke="#000" stroke-width="1.7"/>
<text x="0.00" y="0.00" font-size="11.2" font-weight="bold" text-anchor="end" transform="translate(421.00 455.70) scale(1 1.1)">0</text>
<line x1="422.10" y1="411.50" x2="427.10" y2="411.50" stroke="#000" stroke-width="1.7"/>
<text x="0.00" y="0.00" font-size="11.2" font-weight="bold" text-anchor="end" transform="translate(421.00 415.50) scale(1 1.1)">1</text>
<line x1="422.10" y1="371.30" x2="427.10" y2="371.30" stroke="#000" stroke-width="1.7"/>
<text x="0.00" y="0.00" font-size="11.2" font-weight="bold" text-anchor="end" transform="translate(421.00 375.30) scale(1 1.1)">2</text>
<line x1="422.10" y1="331.10" x2="427.10" y2="331.10" stroke="#000" stroke-width="1.7"/>
<text x="0.00" y="0.00" font-size="11.2" font-weight="bold" text-anchor="end" transform="translate(421.00 335.10) scale(1 1.1)">3</text>
<line x1="422.10" y1="290.90" x2="427.10" y2="290.90" stroke="#000" stroke-width="1.7"/>
<text x="0.00" y="0.00" font-size="11.2" font-weight="bold" text-anchor="end" transform="translate(421.00 294.90) scale(1 1.1)">4</text>
<text x="0.00" y="0.00" font-size="13.3" font-weight="bold" text-anchor="middle" transform="translate(407.30 370.60) rotate(-90) scale(1 1.0)">PSA (ng/mL)</text>
<line x1="456.30" y1="333.39" x2="456.30" y2="339.54" stroke="#000" stroke-width="2.0"/>
<line x1="449.60" y1="333.39" x2="463.00" y2="333.39" stroke="#000" stroke-width="2.0"/>
<rect x="444.85" y="339.54" width="22.90" height="112.16" fill="#000" stroke="#000" stroke-width="2.0"/>
<line x1="514.00" y1="332.99" x2="514.00" y2="341.31" stroke="#000" stroke-width="2.0"/>
<line x1="507.30" y1="332.99" x2="520.70" y2="332.99" stroke="#000" stroke-width="2.0"/>
<rect x="502.55" y="341.31" width="22.90" height="110.39" fill="url(#hatchR)" stroke="#000" stroke-width="2.0"/>
<line x1="548.50" y1="337.21" x2="548.50" y2="345.09" stroke="#000" stroke-width="2.0"/>
<line x1="541.80" y1="337.21" x2="555.20" y2="337.21" stroke="#000" stroke-width="2.0"/>
<rect x="537.05" y="345.09" width="22.90" height="106.61" fill="url(#hatchR)" stroke="#000" stroke-width="2.0"/>
<line x1="606.50" y1="332.99" x2="606.50" y2="339.18" stroke="#000" stroke-width="2.0"/>
<line x1="599.80" y1="332.99" x2="613.20" y2="332.99" stroke="#000" stroke-width="2.0"/>
<rect x="595.05" y="339.18" width="22.90" height="112.52" fill="url(#hatchL)" stroke="#000" stroke-width="2.0"/>
<line x1="641.10" y1="330.09" x2="641.10" y2="338.09" stroke="#000" stroke-width="2.0"/>
<line x1="634.40" y1="330.09" x2="647.80" y2="330.09" stroke="#000" stroke-width="2.0"/>
<rect x="629.65" y="338.09" width="22.90" height="113.61" fill="url(#hatchL)" stroke="#000" stroke-width="2.0"/>
<line x1="456.30" y1="451.70" x2="456.30" y2="456.70" stroke="#000" stroke-width="1.7"/>
<text x="0.00" y="0.00" font-size="11.2" font-weight="bold" text-anchor="middle" transform="translate(456.30 468.60) scale(1 1.1)">C</text>
<line x1="514.00" y1="451.70" x2="514.00" y2="456.70" stroke="#000" stroke-width="1.7"/>
<text x="0.00" y="0.00" font-size="11.2" font-weight="bold" text-anchor="middle" transform="translate(514.00 468.60) scale(1 1.1)">20</text>
<line x1="548.50" y1="451.70" x2="548.50" y2="456.70" stroke="#000" stroke-width="1.7"/>
<text x="0.00" y="0.00" font-size="11.2" font-weight="bold" text-anchor="middle" transform="translate(548.50 468.60) scale(1 1.1)">40</text>
<line x1="606.50" y1="451.70" x2="606.50" y2="456.70" stroke="#000" stroke-width="1.7"/>
<text x="0.00" y="0.00" font-size="11.2" font-weight="bold" text-anchor="middle" transform="translate(606.50 468.60) scale(1 1.1)">20</text>
<line x1="641.10" y1="451.70" x2="641.10" y2="456.70" stroke="#000" stroke-width="1.7"/>
<text x="0.00" y="0.00" font-size="11.2" font-weight="bold" text-anchor="middle" transform="translate(641.10 468.60) scale(1 1.1)">40</text>
<line x1="502.35" y1="472.60" x2="553.80" y2="472.60" stroke="#000" stroke-width="1.3"/>
<line x1="595.65" y1="472.60" x2="647.60" y2="472.60" stroke="#000" stroke-width="1.3"/>
<text x="0.00" y="0.00" font-size="12.3" font-weight="bold" text-anchor="middle" transform="translate(527.95 487.80) scale(1 1.06)">ME</text>
<text x="0.00" y="0.00" font-size="12.3" font-weight="bold" text-anchor="middle" transform="translate(621.30 487.80) scale(1 1.06)">FME</text>
</svg>
</body></html>
